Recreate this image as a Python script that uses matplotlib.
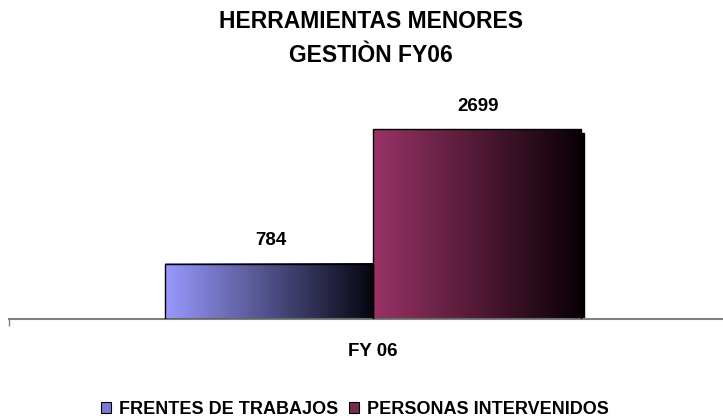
import numpy as np
import matplotlib.pyplot as plt
from matplotlib.colors import LinearSegmentedColormap
from matplotlib.patches import Rectangle

plt.rcParams['font.family'] = ['Liberation Sans', 'DejaVu Sans']

#------------data-----------------------
series = ['FRENTES DE TRABAJOS', 'PERSONAS INTERVENIDOS']
values = [784, 2699]
category = 'FY 06'
colors_lo = ['#9999ff', '#993366']
colors_hi = ['#05050f', '#0a0005']
colors_leg = ['#7a7ad0', '#7a2a50']

#------------layout---------------------
W, H = 723, 418
fig = plt.figure(figsize=(W/100, H/100), dpi=100)
ax = fig.add_axes([9/W, (H-319)/H, 714/W, (319-108)/H])
bw = 0.4
xlim = (-0.700, 0.673)

xs = [-bw, 0]
grad = np.linspace(0, 1, 256).reshape(1, -1)
for x0, v, c0, c1 in zip(xs, values, colors_lo, colors_hi):
    cmap = LinearSegmentedColormap.from_list('g', [c0, c1])
    if v == max(values):
        # drop shadow
        ax.add_patch(Rectangle((x0 + 0.0065, -50), bw, v, color='black', zorder=1))
    ax.imshow(grad, cmap=cmap, aspect='auto', extent=[x0, x0+bw, 0, v],
              zorder=2, interpolation='bilinear')
    ax.add_patch(Rectangle((x0, 0), bw, v, fill=False, edgecolor='black', lw=1, zorder=3))
    ax.annotate(str(v), (x0 + bw/2, v), xytext=(1, 16.5), textcoords='offset points',
                ha='center', va='center', fontsize=13.5, fontweight='bold')

ax.set_xlim(*xlim)
ax.set_ylim(0, 3000)
for s in ['top', 'right', 'left']:
    ax.spines[s].set_visible(False)
ax.spines['bottom'].set_color('#808080')
ax.spines['bottom'].set_linewidth(1.5)
ax.set_yticks([])
ax.set_xticks([xlim[0]])
ax.set_xticklabels([''])
ax.tick_params(axis='x', length=5, color='#808080', width=1)
ax.annotate(category, (0, 0), xycoords=('data', 'axes fraction'),
            xytext=(0, -23.5), textcoords='offset points', fontsize=13.5,
            fontweight='bold', ha='center', va='center', annotation_clip=False)

fig.text(371/W, 1-22/H, 'HERRAMIENTAS MENORES', ha='center', va='center',
         fontsize=16.5, fontweight='bold')
fig.text(371/W, 1-56/H, 'GESTIÒN FY06', ha='center', va='center',
         fontsize=16.5, fontweight='bold')

handles = [Rectangle((0, 0), 1, 1, facecolor=c, edgecolor='black', lw=0.8) for c in colors_leg]
fig.legend(handles, series, loc='center', bbox_to_anchor=(355/W, 1-409/H), ncol=2,
           frameon=False, prop={'weight': 'bold', 'size': 13}, borderpad=0,
           handlelength=0.55, handleheight=0.55, handletextpad=0.45, columnspacing=0.6)

plt.savefig('out.png', dpi=100)
